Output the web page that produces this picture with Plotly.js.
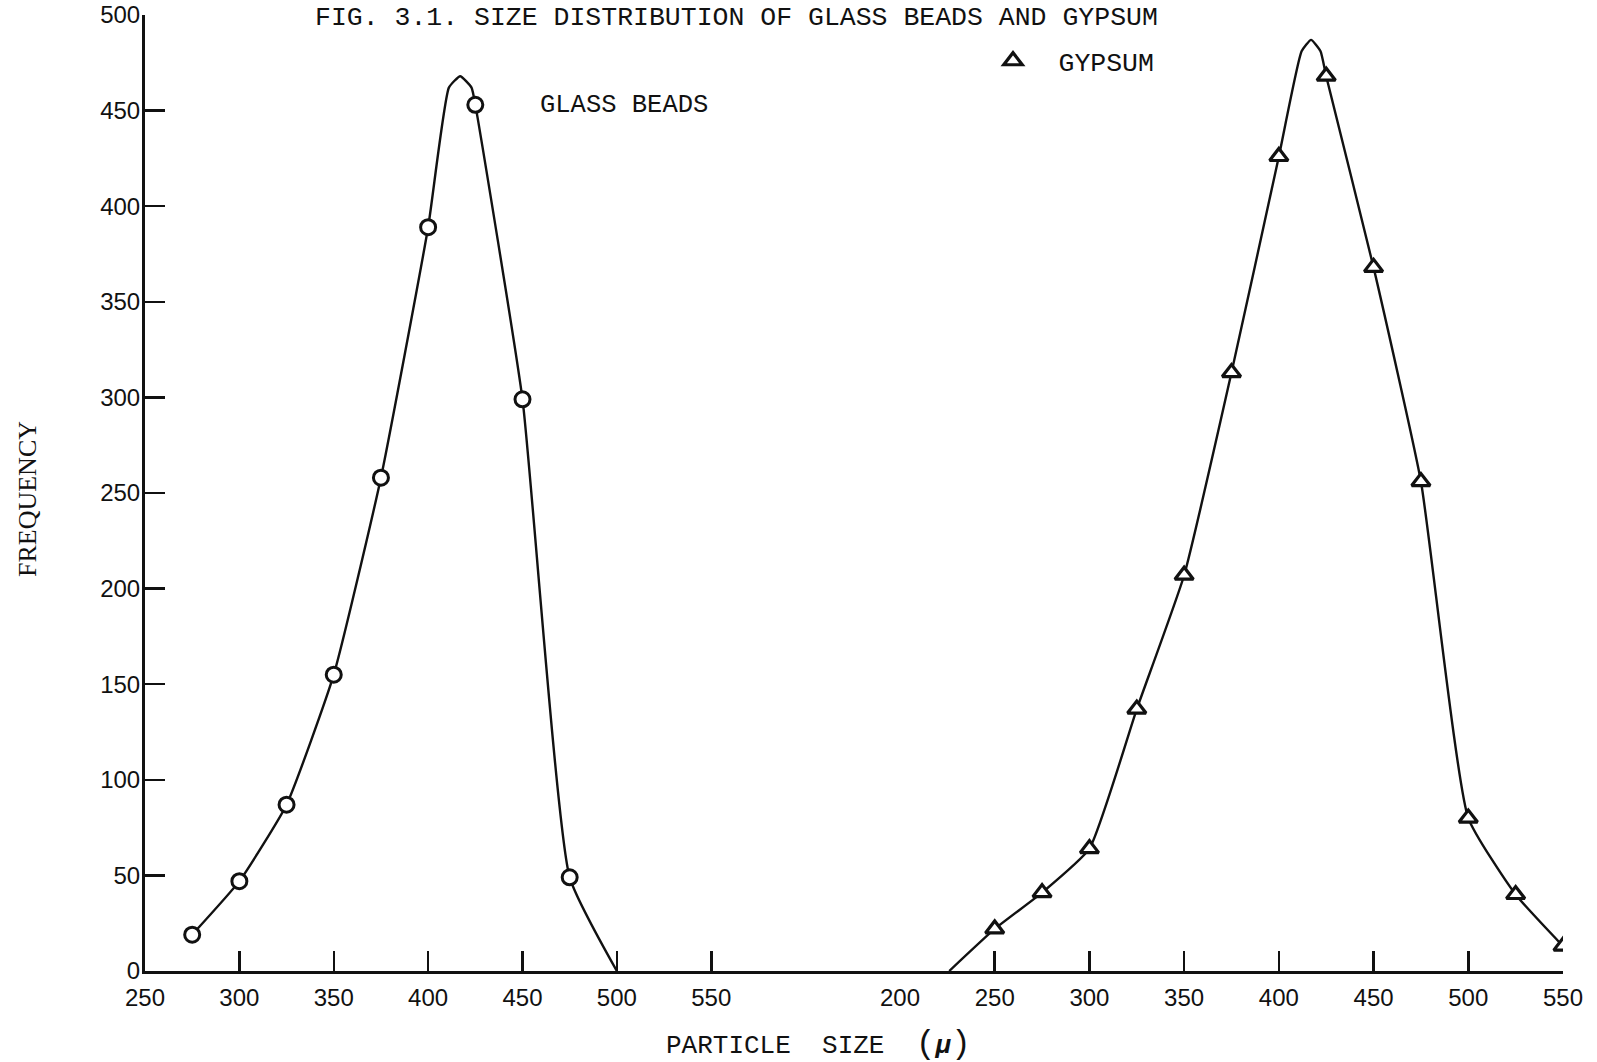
<!DOCTYPE html>
<html>
<head>
<meta charset="utf-8">
<script src="https://cdn.plot.ly/plotly-3.0.1.min.js"></script>
<style>html,body{margin:0;padding:0;background:#fff;}#chart{width:1597px;height:1062px;}</style>
</head>
<body>
<div id="chart"></div>
<script>
// ---- data ----
const glassX = [275, 300, 325, 350, 375, 400, 425, 450, 475];
const glassY = [19, 47, 87, 155, 258, 389, 453, 299, 49];
// hand-drawn smooth curve through the glass-bead points
const glassCurveX = [275, 300, 325, 350, 375, 400, 411, 417, 423, 425, 450, 475, 500];
const glassCurveY = [19, 47, 87, 155, 258, 389, 462, 468, 462, 453, 299, 49, 0];

const gypsumX = [250, 275, 300, 325, 350, 375, 400, 425, 450, 475, 500, 525, 550];
const gypsumY = [22, 41, 64, 137, 207, 313, 426, 468, 368, 256, 80, 40, 13];
// hand-drawn smooth curve through the gypsum points
const gypsumCurveX = [226, 250, 275, 300, 325, 350, 375, 400, 412, 417, 422, 425, 450, 475, 500, 525, 550];
const gypsumCurveY = [0, 22, 41, 64, 137, 207, 313, 426, 481, 487, 481, 468, 368, 256, 80, 40, 13];

const leftTicks = [250, 300, 350, 400, 450, 500, 550];
const rightTicks = [200, 250, 300, 350, 400, 450, 500, 550];
const yTicks = [0, 50, 100, 150, 200, 250, 300, 350, 400, 450, 500];

const titleText = "FIG. 3.1. SIZE DISTRIBUTION OF GLASS BEADS AND GYPSUM";
const glassLabel = "GLASS BEADS";
const gypsumLabel = "<span style='font-size:16px'>\u00a0</span>\u00a0GYPSUM";
const xTitle = "PARTICLE\u00a0\u00a0SIZE\u00a0\u00a0<span style='font-size:33px'>(</span><b><i>\u03bc</i></b><span style='font-size:33px'>)</span>";
const yTitle = "FREQUENCY";

// ---- styling ----
const ink = "#111";
const mono = "Liberation Mono, DejaVu Sans Mono, monospace";
const tickFont = {family: "Liberation Sans, Arial, sans-serif", size: 24, color: ink};

const traces = [
  {x: glassCurveX, y: glassCurveY, xaxis: "x", yaxis: "y", mode: "lines",
   line: {color: ink, width: 2.4, shape: "spline", smoothing: 0.45}, showlegend: false, hoverinfo: "skip"},
  {x: glassX, y: glassY, xaxis: "x", yaxis: "y", mode: "markers", name: glassLabel,
   marker: {symbol: "circle", size: 15, color: "#fff", line: {color: ink, width: 3}}, showlegend: false},
  {x: gypsumCurveX, y: gypsumCurveY, xaxis: "x2", yaxis: "y", mode: "lines",
   line: {color: ink, width: 2.4, shape: "spline", smoothing: 0.45}, showlegend: false, hoverinfo: "skip"},
  {x: gypsumX, y: gypsumY, xaxis: "x2", yaxis: "y", mode: "markers", name: gypsumLabel,
   marker: {symbol: "triangle-up", size: 16, color: "#fff", line: {color: ink, width: 3.2}}, showlegend: true}
];

const axisCommon = {
  showgrid: false, zeroline: false, showline: true, linecolor: ink, linewidth: 3,
  ticks: "inside", ticklen: 20, tickwidth: 2.5, tickcolor: ink,
  tickfont: tickFont, tickmode: "array", fixedrange: true
};

const L = 145, R = 34, T = 15, B = 91;
const W = 1597, H = 1062;
const pw = W - L - R;
const ph = H - T - B;
const split = (900 - L) / pw;

const layout = {
  width: W, height: H,
  margin: {l: L, r: R, t: T, b: B, pad: 0},
  paper_bgcolor: "#fff", plot_bgcolor: "#fff",
  font: {family: mono, color: ink},
  xaxis: Object.assign({}, axisCommon, {
    domain: [0, split], range: [250, 650], tickvals: leftTicks,
    ticktext: leftTicks.map(String), anchor: "y", ticklabelstandoff: 3
  }),
  xaxis2: Object.assign({}, axisCommon, {
    domain: [split, 1], range: [200, 550], tickvals: rightTicks,
    ticktext: rightTicks.map(String), anchor: "y", ticklabelstandoff: 3
  }),
  yaxis: Object.assign({}, axisCommon, {
    range: [0, 500], tickvals: yTicks, ticktext: yTicks.map(String), anchor: "x",
    ticklabelstandoff: -3
  }),
  showlegend: true,
  legend: {
    x: (993 - L) / pw, xanchor: "left", y: (971 - 61) / ph, yanchor: "middle",
    bgcolor: "rgba(0,0,0,0)", borderwidth: 0,
    font: {family: mono, size: 26.5, color: ink}
  },
  annotations: [
    {text: titleText, xref: "paper", yref: "paper", x: (736 - L) / pw, y: (971 - 1) / ph,
     xanchor: "center", yanchor: "top", showarrow: false,
     font: {family: mono, size: 26.5, color: ink}},
    {text: glassLabel, xref: "paper", yref: "paper", x: (538 - L) / pw, y: (971 - 105) / ph,
     xanchor: "left", yanchor: "middle", showarrow: false,
     font: {family: mono, size: 25.5, color: ink}},
    {text: xTitle, xref: "paper", yref: "paper", x: (818 - L) / pw, y: (971 - 1044) / ph,
     xanchor: "center", yanchor: "middle", showarrow: false,
     font: {family: mono, size: 26, color: ink}},
    {text: yTitle, xref: "paper", yref: "paper", x: (28 - L) / pw, y: (971 - 499) / ph,
     xanchor: "center", yanchor: "middle", textangle: -90, showarrow: false,
     font: {family: "Liberation Serif, DejaVu Serif, serif", size: 26, color: ink}}
  ]
};

Plotly.newPlot("chart", traces, layout, {displayModeBar: false, staticPlot: true});
</script>
</body>
</html>
